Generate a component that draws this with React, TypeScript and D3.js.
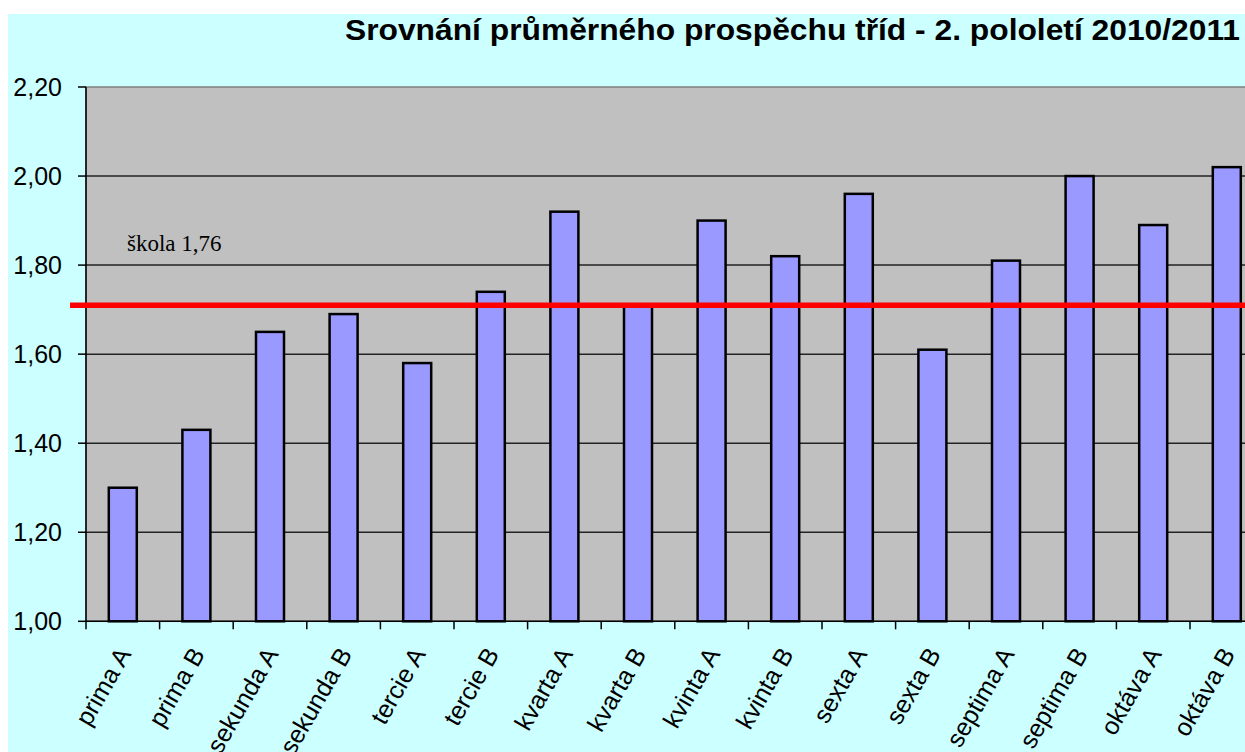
import React from "react";
import * as d3 from "d3";

const categories = [
  "prima A", "prima B", "sekunda A", "sekunda B", "tercie A", "tercie B",
  "kvarta A", "kvarta B", "kvinta A", "kvinta B", "sexta A", "sexta B",
  "septima A", "septima B", "oktáva A", "oktáva B",
];
const values = [1.30, 1.43, 1.65, 1.69, 1.58, 1.74, 1.92, 1.71, 1.90, 1.82, 1.96, 1.61, 1.81, 2.00, 1.89, 2.02];
const yTicks = [1.0, 1.2, 1.4, 1.6, 1.8, 2.0, 2.2];
const schoolLine = 1.71;
const schoolLabel = "škola 1,76";
const title = "Srovnání průměrného prospěchu tříd - 2. pololetí 2010/2011";

const W = 1245;
const H = 752;
const plot = { left: 86, top: 87, bottom: 621.3, right: 86 + 16 * 73.6 };

export default function App() {
  const x = d3.scaleBand<string>().domain(categories).range([plot.left, plot.right]).paddingInner(0).paddingOuter(0);
  const y = d3.scaleLinear().domain([1, 2.2]).range([plot.bottom, plot.top]);
  const bw = x.bandwidth();
  const barW = 28;
  const fmt = (v: number) => v.toFixed(2).replace(".", ",");
  const sans = "'Liberation Sans', Arial, sans-serif";
  return (
    <svg width={W} height={H} style={{ position: "absolute", left: 0, top: 0, display: "block" }}>
      <rect x={0} y={0} width={W} height={H} fill="#ffffff" />
      <rect x={8} y={14} width={W - 8} height={H - 14} fill="#ccffff" />
      <text x={345} y={40} fontFamily={sans} fontWeight="bold" fontSize={29} fill="#000"
        textLength={895} lengthAdjust="spacingAndGlyphs">{title}</text>
      <rect x={plot.left} y={plot.top} width={plot.right - plot.left} height={plot.bottom - plot.top} fill="#c0c0c0" stroke="#808080" strokeWidth={1.5} />
      {yTicks.map((t) => (
        <g key={t}>
          {t > 1 && t < 2.2 && (
            <line x1={plot.left} x2={plot.right} y1={y(t)} y2={y(t)} stroke="#222" strokeWidth={1.5} />
          )}
          <line x1={plot.left - 8} x2={plot.left} y1={y(t)} y2={y(t)} stroke="#000" strokeWidth={1.5} />
          <text x={62} y={y(t) + 9} textAnchor="end" fontFamily={sans} fontSize={25} fill="#000">{fmt(t)}</text>
        </g>
      ))}
      {categories.map((c, i) => (
        <rect key={c} x={(x(c) as number) + bw / 2 - barW / 2} y={y(values[i])} width={barW} height={plot.bottom - y(values[i])}
          fill="#9999ff" stroke="#000" strokeWidth={2.5} />
      ))}
      <line x1={plot.left} x2={plot.left} y1={plot.top} y2={plot.bottom} stroke="#000" strokeWidth={1.5} />
      <line x1={plot.left} x2={plot.right} y1={plot.bottom} y2={plot.bottom} stroke="#000" strokeWidth={1.5} />
      {categories.map((c) => (
        <line key={"t" + c} x1={x(c) as number} x2={x(c) as number} y1={plot.bottom} y2={plot.bottom + 8} stroke="#000" strokeWidth={1.5} />
      ))}
      <line x1={70} x2={plot.right} y1={y(schoolLine)} y2={y(schoolLine)} stroke="#ff0000" strokeWidth={5.5} />
      <text x={127} y={251} fontFamily="'Liberation Serif', 'Times New Roman', serif" fontSize={23} fill="#000">{schoolLabel}</text>
      {categories.map((c) => {
        const cx = (x(c) as number) + bw / 2 - 6;
        const cy = plot.bottom + 24;
        return (
          <text key={"l" + c} x={cx} y={cy} textAnchor="end" fontFamily={sans} fontSize={25} fill="#000"
            transform={`rotate(-60, ${cx}, ${cy})`} dy="0.7em">{c}</text>
        );
      })}
    </svg>
  );
}
